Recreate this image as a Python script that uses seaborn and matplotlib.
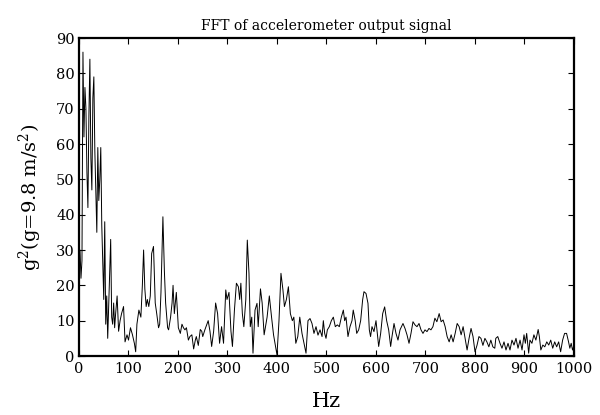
import numpy as np
import pandas as pd
import matplotlib
matplotlib.use("Agg")
import matplotlib.pyplot as plt
import seaborn as sns

# ---- data ----
freq_hz = [0, 2, 4, 6, 8, 10, 12, 14, 16, 18, 20, 22, 24, 26, 28, 30, 32, 34, 36, 38,
           40, 42, 44, 46, 48, 50, 52, 54, 56, 58, 60, 62, 64, 66, 68, 70, 72, 74, 77, 80,
           83, 86, 90, 93, 97, 100, 104, 108, 112, 114.5, 117, 121, 125, 128, 130.5,
           133, 135.7, 138, 141, 144, 146.8, 150.5, 154, 157, 160.7, 163, 165.6, 169.5, 172.5, 175,
           179, 181, 185, 188, 190, 192.6, 196.6, 200.7, 204.7, 208, 211, 214, 217, 221, 224,
           228, 231.6, 235, 237, 241, 245, 248, 250, 254.5, 258.5, 261, 264.6, 268, 272, 276,
           280, 284, 288, 292, 296.5, 299, 303, 307, 310, 314, 318, 322, 324.6, 327, 330,
           333, 337, 340, 343.4, 346, 349, 351.5, 355.6, 359.6, 362, 366.6, 370, 374, 380, 384.5,
           389, 393, 397, 400, 404, 408, 412, 415, 419, 423, 427, 431, 434, 438, 442,
           446, 450.5, 454.5, 458.6, 462.6, 466.7, 470.7, 474.7, 478.8, 482.8, 486.9, 491, 493.6, 496.3, 499,
           501.7, 505.7, 509.8, 513.8, 517.8, 521.9, 525.9, 530, 534, 536.7, 539.4, 543.4, 547.5, 551.5, 554,
           558, 561, 565, 569, 573, 575.7, 579.8, 583.8, 586.5, 589, 591.9, 595.9, 600, 602.7, 605.4,
           609.4, 613.5, 617.5, 621.5, 625.6, 629.6, 632.3, 636.4, 640.4, 644.4, 648.5, 654.5, 658.6, 662.6, 666.7,
           670.7, 674.7, 678.8, 682.8, 686.9, 690.9, 694.9, 699, 703, 707, 711, 715, 719, 723, 727.6,
           731.6, 735.6, 739.7, 743.7, 747.8, 751.8, 755.8, 759.9, 764, 768, 772, 776, 780, 784, 788,
           792, 796, 800, 804, 808, 812, 816, 820, 824, 828, 832, 836, 840, 842, 846,
           850.5, 854.5, 858.6, 862.6, 866.7, 870.7, 874.7, 878.8, 882.8, 886.9, 891, 895, 899, 901.7, 904.4,
           908.4, 911, 915, 919, 923, 927.6, 930, 933, 937, 941, 945, 949, 953, 957, 961,
           965, 969, 973, 977, 981, 985, 989, 991.6, 994.3, 997, 1000]

power_g2 = [24, 30, 22, 27, 86, 62, 76, 70, 52, 42, 68, 84, 56, 47, 73, 79, 58, 46, 35, 59,
            44, 50, 59, 37, 26, 16, 38, 9, 17, 5, 14, 22, 33, 11, 9, 15, 8, 12, 17, 7,
            10, 12, 14, 4, 6, 4.5, 8, 6, 3.5, 1.2, 9, 13, 11, 20, 30,
            19, 14, 16, 14, 17, 29, 31, 15, 12, 8, 9, 18, 39.4, 24, 15,
            8, 7.4, 11, 15, 20, 12, 18, 8, 6.4, 9, 8, 7.4, 8, 4.5, 5.5,
            6, 2, 4.5, 5.5, 3, 7.5, 7, 5.5, 7.5, 9, 10, 7, 2.7, 7, 15,
            12, 3.6, 8.3, 3.6, 18.7, 16, 18, 7, 2.7, 13, 20.6, 19.6, 16, 20.6, 12,
            8.3, 16, 32.8, 23.4, 8.3, 11, 0.8, 13, 14.9, 8.3, 19, 15, 6, 11, 17,
            11, 6, 2.7, 0.3, 10, 23.4, 18.7, 14, 16, 19.6, 12, 10, 11, 3.6, 5.5,
            11, 6.4, 3.6, 0.8, 10, 10.6, 9.2, 6.4, 8.3, 5.9, 7.4, 5.5, 10, 6.4, 5,
            7.4, 8.3, 10, 11, 8.3, 8.8, 8.3, 11, 13, 10, 11, 5.5, 8.3, 10, 13,
            10, 6.4, 7.4, 10, 15.9, 18.2, 17.7, 14.9, 7.4, 5.5, 8.3, 6.9, 10, 6.4, 2.7,
            6.4, 12, 13.9, 10, 7.4, 2.7, 5.5, 9.2, 6.4, 4.5, 7.4, 9.2, 7.8, 6, 3.6,
            6.4, 9.7, 8.8, 8.3, 9.2, 7.4, 6.4, 7.4, 6.9, 7.8, 7.4, 8.3, 10.7, 9.7, 12,
            9.7, 10.2, 8.3, 5.5, 4, 6, 4, 6.4, 9.2, 8.3, 6, 8.3, 5, 1.7, 5,
            7.8, 5.5, 1.2, 3, 5.5, 5, 3, 5, 4, 2.6, 4.5, 2.6, 2.2, 5, 5.5,
            3.6, 2.2, 4, 1.7, 3.6, 1.7, 4.5, 3.1, 5, 2.2, 4.5, 1.7, 6, 3.6, 6.4,
            0.8, 4.5, 3.6, 6, 4.5, 7.5, 5.5, 1.7, 3.1, 2.6, 4, 3.1, 4.5, 2.2, 4,
            2.6, 4, 1.2, 4.5, 6.4, 6.4, 4, 2.2, 3.6, 1.7, 3]

x_ticks = [0, 100, 200, 300, 400, 500, 600, 700, 800, 900, 1000]
y_ticks = [0, 10, 20, 30, 40, 50, 60, 70, 80, 90]
title_text = "FFT of accelerometer output signal"
x_label = "Hz"
y_label = r"g$^2$(g=9.8 m/s$^2$)"

df = pd.DataFrame({"freq": freq_hz, "power": power_g2})

sns.set_style("white")
plt.rcParams["font.family"] = ["DejaVu Serif"]
plt.rcParams["mathtext.fontset"] = "dejavuserif"

fig = plt.figure(figsize=(6.0, 4.15), dpi=100)
ax = fig.add_axes([79 / 600, (415 - 356) / 415, 495 / 600, 318 / 415])

sns.lineplot(data=df, x="freq", y="power", ax=ax, color="black", linewidth=0.7,
             estimator=None, sort=False)

ax.set_xlim(0, 1000)
ax.set_ylim(0, 90)
ax.set_xticks(x_ticks)
ax.set_yticks(y_ticks)
ax.tick_params(direction="in", length=4, width=0.8, top=True, right=True,
               bottom=True, left=True, labelsize=10.5, colors="black")
ax.tick_params(axis="x", pad=4)
ax.tick_params(axis="y", pad=3)
for s in ax.spines.values():
    s.set_visible(True)
    s.set_color("black")
    s.set_linewidth(1.6)

ax.set_title(title_text, fontsize=10, pad=6, color="black")
ax.set_xlabel(x_label, fontsize=15, labelpad=12, color="black")
ax.set_ylabel(y_label, fontsize=14, labelpad=9, color="black")

fig.savefig("out.png", dpi=100)
